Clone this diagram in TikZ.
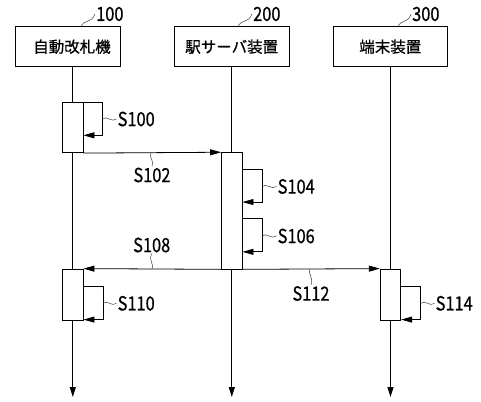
\documentclass[tikz,border=0pt]{standalone}
\usepackage{fontspec}
\setmainfont{Noto Sans CJK JP}[FakeBold=0.7]
\newfontfamily\stepfont{Noto Sans CJK JP}[FakeStretch=0.84,FakeBold=0.7]
\usepackage{tikz}
\usetikzlibrary{arrows.meta,positioning,calc}

\begin{document}
\begin{tikzpicture}[
    x=1pt, y=-1pt,
    hdr/.style={rectangle,draw,line width=0.8pt,minimum height=40pt,inner sep=0pt,
      font=\fontsize{15.5}{18}\selectfont},
    act/.style={rectangle,draw,fill=white,line width=0.8pt,inner sep=0pt,minimum width=20.5pt},
    life/.style={line width=0.8pt,-{Triangle[length=10pt,width=6pt]}},
    msg/.style={line width=0.8pt,-{Triangle[length=11pt,width=6pt]}},
    lead/.style={line width=0.5pt,black!75},
    lbl/.style={inner sep=1pt,font=\stepfont\fontsize{19.5}{21}\selectfont},
  ]
  \useasboundingbox (0,0) rectangle (481,401);
  % Header boxes
  \node[hdr,minimum width=105pt] (h1) at (67.5,46.7) {\hspace*{9pt}自動改札機};
  \node[hdr,minimum width=115pt] (h2) at (231.7,46.7) {駅サーバ装置};
  \node[hdr,minimum width=114pt] (h3) at (390.3,46.7) {端末装置};
  \node[lbl,anchor=west] (n100) at (95,14) {100};
  \node[lbl,anchor=west] (n200) at (252,14) {200};
  \node[lbl,anchor=west] (n300) at (411,14) {300};
  \coordinate (t1) at (81,26.7);
  \coordinate (t2) at (238,26.7);
  \coordinate (t3) at (398,26.7);
  \draw[lead] (t1) .. controls (84,19) and (91,24) .. (n100.west);
  \draw[lead] (t2) .. controls (241,19) and (248,24) .. (n200.west);
  \draw[lead] (t3) .. controls (401,19) and (408,24) .. (n300.west);
  % Lifelines
  \coordinate (e1) at (72.8,397);
  \coordinate (e2) at (231.8,397);
  \coordinate (e3) at (390.5,397);
  \draw[life] (h1.south -| e1) -- (e1);
  \draw[life] (h2.south -| e2) -- (e2);
  \draw[life] (h3.south -| e3) -- (e3);
  % Activation boxes
  \node[act,minimum height=50pt] (a1) at (72.8,127.7) {};
  \node[act,minimum height=116.3pt] (a2) at (231.8,210.8) {};
  \node[act,minimum height=51pt] (a3) at (72.8,294.5) {};
  \node[act,minimum height=51pt] (a4) at (390.5,294.5) {};
  % Self steps
  \draw[msg] (a1.north east) -- ++(19.4,0) -- ++(0,33) -- ++(-19.4,0);
  \draw[msg] ($(a2.north east)+(0,17.5)$) -- ++(20,0) -- ++(0,32.3) -- ++(-20,0);
  \draw[msg] ($(a2.north east)+(0,66.6)$) -- ++(20,0) -- ++(0,33) -- ++(-20,0);
  \draw[msg] ($(a3.north east)+(0,17.7)$) -- ++(19.7,0) -- ++(0,33.3) -- ++(-19.7,0);
  \draw[msg] ($(a4.north east)+(0,17.7)$) -- ++(19.7,0) -- ++(0,33.3) -- ++(-19.7,0);
  % Messages
  \draw[msg] (a1.south east) -- (a2.north west);
  \draw[msg] (a2.south west) -- (a3.north east);
  \draw[msg] (a2.south east) -- (a4.north west);
  % Step labels
  \node[lbl,anchor=west] (s100) at (116.5,119) {S100};
  \node[lbl] (s102) at (152,175) {S102};
  \node[lbl,anchor=west] (s104) at (276.5,186.5) {S104};
  \node[lbl,anchor=west] (s106) at (276.5,236) {S106};
  \node[lbl] (s108) at (151.7,245) {S108};
  \node[lbl,anchor=west] (s110) at (116.5,303.3) {S110};
  \node[lbl] (s112) at (311,293.5) {S112};
  \node[lbl,anchor=west] (s114) at (434.5,303.3) {S114};
  % Leaders
  \coordinate (c100) at (102.7,119);
  \coordinate (c102) at (151,152.7);
  \coordinate (c104) at (262,186.5);
  \coordinate (c106) at (262,236);
  \coordinate (c108) at (152,269);
  \coordinate (c110) at (103,303.3);
  \coordinate (c112) at (310,269);
  \coordinate (c114) at (421,303.3);
  \draw[lead] (c100) .. controls (106,115) and (112,123) .. (s100.west);
  \draw[lead] (c104) .. controls (266,182.5) and (272,190.5) .. (s104.west);
  \draw[lead] (c106) .. controls (266,232) and (272,240) .. (s106.west);
  \draw[lead] (c110) .. controls (107,299.3) and (112,307.3) .. (s110.west);
  \draw[lead] (c114) .. controls (425,299.3) and (430,307.3) .. (s114.west);
  \draw[lead] (c102) .. controls (148,157) and (155,161) .. (s102.north);
  \draw[lead] (c108) .. controls (155,265) and (148,261) .. (s108.south);
  \draw[lead] (c112) .. controls (307,273) and (314,277) .. (s112.north);
\end{tikzpicture}
\end{document}
